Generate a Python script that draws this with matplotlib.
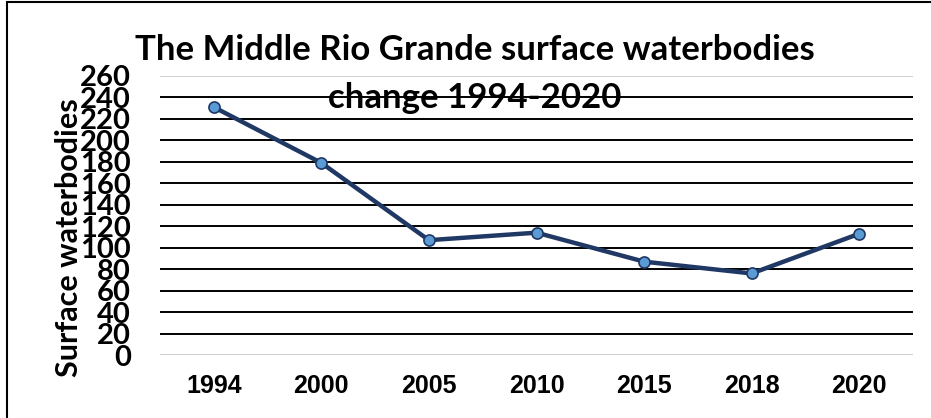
import matplotlib
matplotlib.use("Agg")
import matplotlib.pyplot as plt
from matplotlib.patches import Rectangle

# surface waterbody counts for the Middle Rio Grande
years = ["1994", "2000", "2005", "2010", "2015", "2018", "2020"]
waterbodies = [231, 179, 107, 114, 87, 76, 113]
y_ticks = list(range(0, 261, 20))

W, H = 931, 418
fig = plt.figure(figsize=(W / 100, H / 100), dpi=100)
ax = fig.add_axes([160 / W, 1 - 355 / H, (913 - 160) / W, (355 - 76) / H])

x = range(len(years))
ax.plot(x, waterbodies, color="#203864", lw=3.2, marker="o", ms=8,
        mfc="#5B9BD5", mec="#203864", mew=1.2, zorder=3, clip_on=False)

ax.set_xlim(-0.5, len(years) - 0.5)
ax.set_ylim(0, 260)
ax.set_yticks(y_ticks)
ax.set_xticks(list(x))
ax.set_xticklabels(years, fontsize=18, fontweight="bold", family="Liberation Sans")
ax.set_yticklabels([str(v) for v in y_ticks], fontsize=21, fontweight="bold", family="Lato")
ax.tick_params(axis="both", length=0)
ax.tick_params(axis="x", pad=14)
ax.tick_params(axis="y", pad=21)

# horizontal gridlines, the bottom and top ones faded
for v in y_ticks:
    c = "#d0d0d0" if v in (0, 260) else "black"
    ax.axhline(v, color=c, lw=1.4, zorder=1)
for s in ax.spines.values():
    s.set_visible(False)

ax.set_ylabel("Surface waterbodies", fontsize=22, fontweight="bold", family="Lato")
ax.yaxis.set_label_coords(-77 / (913 - 160), 0.42)

title_kw = dict(ha="center", va="center", fontsize=25, fontweight="bold",
                family="Lato", zorder=5)
fig.text(475 / W, 1 - 50 / H, "The Middle Rio Grande surface waterbodies", **title_kw)
fig.text(475 / W, 1 - 98 / H, "change 1994-2020", **title_kw)

# chart frame
fig.patches.append(Rectangle((7 / W, -0.5), 2, 1.5 - 2 / H, transform=fig.transFigure,
                             fill=False, ec="black", lw=1.5))

fig.savefig("out.png", dpi=100)
